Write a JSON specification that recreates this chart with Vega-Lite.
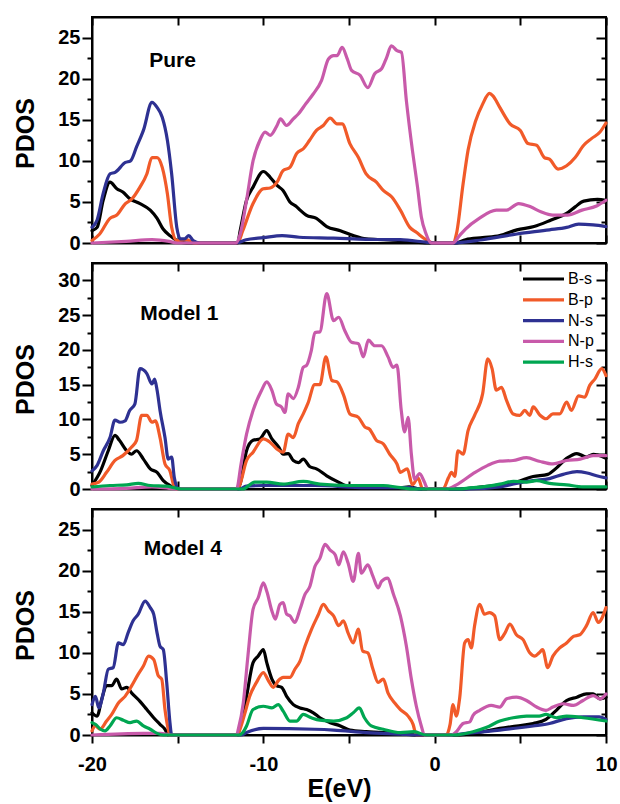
{
"$schema":"https://vega.github.io/schema/vega-lite/v6.json",
"padding":{"left":12,"top":15,"right":0,"bottom":0},
"config":{
 "view":{"stroke":"#000","strokeWidth":2},
 "font":"Liberation Sans",
 "axis":{"domainColor":"#000","domainWidth":2,"tickColor":"#000","tickWidth":2,"labelFont":"Liberation Sans","labelFontWeight":"bold","labelFontSize":20,"labelColor":"#000","titleFont":"Liberation Sans","titleFontWeight":"bold","titleFontSize":25,"titleColor":"#000","grid":false},
 "line":{"strokeWidth":3.2,"strokeJoin":"round","strokeCap":"round","interpolate":"monotone"}
},
"spacing":20,
"bounds":"flush",
"resolve":{"scale":{"color":"independent"},"legend":{"color":"independent"}},
"vconcat":[
{
 "width":514,"height":226,
 "data":{"values":[
{"s":"B-s","e":-20,"v":1.5},{"s":"B-s","e":-19.7,"v":1.9},{"s":"B-s","e":-19.35,"v":5.2},{"s":"B-s","e":-18.95,"v":7.4},{"s":"B-s","e":-18.55,"v":6.6},{"s":"B-s","e":-18.2,"v":6.2},{"s":"B-s","e":-17.8,"v":5.4},{"s":"B-s","e":-17.2,"v":4.8},{"s":"B-s","e":-16.6,"v":4},{"s":"B-s","e":-16.2,"v":3},{"s":"B-s","e":-15.85,"v":1.7},{"s":"B-s","e":-15.45,"v":0.9},{"s":"B-s","e":-15.05,"v":0.3},{"s":"B-s","e":-14.5,"v":0},{"s":"B-s","e":-11.5,"v":0},{"s":"B-s","e":-11.35,"v":1.5},{"s":"B-s","e":-10.98,"v":5.2},{"s":"B-s","e":-10.6,"v":6.8},{"s":"B-s","e":-10,"v":8.7},{"s":"B-s","e":-9.6,"v":8},{"s":"B-s","e":-9.2,"v":7},{"s":"B-s","e":-8.85,"v":6.4},{"s":"B-s","e":-8.45,"v":5},{"s":"B-s","e":-8.05,"v":4.4},{"s":"B-s","e":-7.85,"v":4},{"s":"B-s","e":-7.5,"v":3.4},{"s":"B-s","e":-6.9,"v":3},{"s":"B-s","e":-6.3,"v":2},{"s":"B-s","e":-5.5,"v":1.5},{"s":"B-s","e":-4.75,"v":0.9},{"s":"B-s","e":-4,"v":0.5},{"s":"B-s","e":-3,"v":0.4},{"s":"B-s","e":-2,"v":0.3},{"s":"B-s","e":-1.07,"v":0.1},{"s":"B-s","e":-0.3,"v":0},{"s":"B-s","e":1.2,"v":0},{"s":"B-s","e":1.8,"v":0.4},{"s":"B-s","e":2.8,"v":0.65},{"s":"B-s","e":3.8,"v":0.9},{"s":"B-s","e":4.8,"v":1.6},{"s":"B-s","e":5.8,"v":2},{"s":"B-s","e":6.8,"v":2.8},{"s":"B-s","e":7.7,"v":3.6},{"s":"B-s","e":8.2,"v":4.4},{"s":"B-s","e":8.7,"v":5.1},{"s":"B-s","e":9.5,"v":5.3},{"s":"B-s","e":10,"v":5.2},
{"s":"B-p","e":-20,"v":0.3},{"s":"B-p","e":-19.55,"v":1.1},{"s":"B-p","e":-18.95,"v":3},{"s":"B-p","e":-18.55,"v":3.4},{"s":"B-p","e":-18.05,"v":4.8},{"s":"B-p","e":-17.7,"v":5.3},{"s":"B-p","e":-17.2,"v":6.8},{"s":"B-p","e":-16.8,"v":8.4},{"s":"B-p","e":-16.5,"v":10.4},{"s":"B-p","e":-16.2,"v":10.4},{"s":"B-p","e":-15.9,"v":9.2},{"s":"B-p","e":-15.6,"v":6},{"s":"B-p","e":-15.35,"v":1.9},{"s":"B-p","e":-15.05,"v":0.3},{"s":"B-p","e":-14.5,"v":0.4},{"s":"B-p","e":-14,"v":0},{"s":"B-p","e":-11.5,"v":0},{"s":"B-p","e":-11.2,"v":1.5},{"s":"B-p","e":-10.6,"v":4.8},{"s":"B-p","e":-10,"v":6.6},{"s":"B-p","e":-9.6,"v":6.7},{"s":"B-p","e":-9.2,"v":7.4},{"s":"B-p","e":-8.85,"v":8.8},{"s":"B-p","e":-8.45,"v":9.2},{"s":"B-p","e":-8.05,"v":10.9},{"s":"B-p","e":-7.65,"v":11.5},{"s":"B-p","e":-7.3,"v":12.5},{"s":"B-p","e":-6.9,"v":13.7},{"s":"B-p","e":-6.5,"v":14.3},{"s":"B-p","e":-6.1,"v":15.2},{"s":"B-p","e":-5.7,"v":14.5},{"s":"B-p","e":-5.4,"v":14.5},{"s":"B-p","e":-4.95,"v":12.1},{"s":"B-p","e":-4.45,"v":10.4},{"s":"B-p","e":-4,"v":8.4},{"s":"B-p","e":-3.4,"v":7.4},{"s":"B-p","e":-3,"v":6.4},{"s":"B-p","e":-2.5,"v":5.6},{"s":"B-p","e":-2,"v":4},{"s":"B-p","e":-1.45,"v":1.9},{"s":"B-p","e":-1.07,"v":1.3},{"s":"B-p","e":-0.5,"v":0.4},{"s":"B-p","e":-0.1,"v":0},{"s":"B-p","e":1.07,"v":0},{"s":"B-p","e":1.27,"v":1.1},{"s":"B-p","e":1.66,"v":7.2},{"s":"B-p","e":1.95,"v":11.3},{"s":"B-p","e":2.4,"v":14.9},{"s":"B-p","e":2.8,"v":16.9},{"s":"B-p","e":3.2,"v":18.2},{"s":"B-p","e":3.4,"v":17.9},{"s":"B-p","e":3.8,"v":16.5},{"s":"B-p","e":4.4,"v":14.5},{"s":"B-p","e":5,"v":13.7},{"s":"B-p","e":5.45,"v":12.1},{"s":"B-p","e":5.95,"v":11.9},{"s":"B-p","e":6.4,"v":10.4},{"s":"B-p","e":6.7,"v":10.2},{"s":"B-p","e":7.2,"v":9},{"s":"B-p","e":7.7,"v":9.4},{"s":"B-p","e":8.2,"v":10.4},{"s":"B-p","e":8.7,"v":11.9},{"s":"B-p","e":9.15,"v":12.7},{"s":"B-p","e":9.65,"v":13.5},{"s":"B-p","e":10,"v":14.6},
{"s":"N-s","e":-20,"v":1.9},{"s":"N-s","e":-19.7,"v":2.8},{"s":"N-s","e":-19.35,"v":6},{"s":"N-s","e":-18.95,"v":8.4},{"s":"N-s","e":-18.65,"v":8.6},{"s":"N-s","e":-18.05,"v":9.8},{"s":"N-s","e":-17.75,"v":10},{"s":"N-s","e":-17.4,"v":11.7},{"s":"N-s","e":-17,"v":13.7},{"s":"N-s","e":-16.5,"v":17.1},{"s":"N-s","e":-16.2,"v":16.5},{"s":"N-s","e":-15.9,"v":15.3},{"s":"N-s","e":-15.6,"v":12.5},{"s":"N-s","e":-15.35,"v":8.4},{"s":"N-s","e":-15.05,"v":1.9},{"s":"N-s","e":-14.85,"v":0.5},{"s":"N-s","e":-14.6,"v":0.5},{"s":"N-s","e":-14.35,"v":0.9},{"s":"N-s","e":-14.1,"v":0.3},{"s":"N-s","e":-13.7,"v":0},{"s":"N-s","e":-11.6,"v":0},{"s":"N-s","e":-11,"v":0.4},{"s":"N-s","e":-10,"v":0.65},{"s":"N-s","e":-8.9,"v":0.9},{"s":"N-s","e":-7.9,"v":0.7},{"s":"N-s","e":-5.9,"v":0.6},{"s":"N-s","e":-4,"v":0.45},{"s":"N-s","e":-2,"v":0.4},{"s":"N-s","e":-0.5,"v":0.1},{"s":"N-s","e":0,"v":0},{"s":"N-s","e":1,"v":0},{"s":"N-s","e":2.8,"v":0.4},{"s":"N-s","e":4.8,"v":1.1},{"s":"N-s","e":6.7,"v":1.6},{"s":"N-s","e":7.7,"v":1.9},{"s":"N-s","e":8.4,"v":2.3},{"s":"N-s","e":9.25,"v":2.2},{"s":"N-s","e":10,"v":2},
{"s":"N-p","e":-20,"v":0},{"s":"N-p","e":-18,"v":0.2},{"s":"N-p","e":-16.5,"v":0.4},{"s":"N-p","e":-15.5,"v":0.2},{"s":"N-p","e":-15,"v":0},{"s":"N-p","e":-11.6,"v":0},{"s":"N-p","e":-11.35,"v":1.1},{"s":"N-p","e":-10.98,"v":5.2},{"s":"N-p","e":-10.6,"v":10},{"s":"N-p","e":-10.2,"v":12.5},{"s":"N-p","e":-9.9,"v":13.5},{"s":"N-p","e":-9.6,"v":13.1},{"s":"N-p","e":-9.2,"v":14.3},{"s":"N-p","e":-9,"v":15.1},{"s":"N-p","e":-8.65,"v":14.3},{"s":"N-p","e":-8.25,"v":15.1},{"s":"N-p","e":-7.96,"v":15.7},{"s":"N-p","e":-7.5,"v":17},{"s":"N-p","e":-7.1,"v":18.1},{"s":"N-p","e":-6.6,"v":19.8},{"s":"N-p","e":-6.2,"v":22.4},{"s":"N-p","e":-5.9,"v":22.8},{"s":"N-p","e":-5.7,"v":22.8},{"s":"N-p","e":-5.4,"v":23.8},{"s":"N-p","e":-5.1,"v":22.4},{"s":"N-p","e":-4.85,"v":21},{"s":"N-p","e":-4.35,"v":20.4},{"s":"N-p","e":-3.9,"v":18.9},{"s":"N-p","e":-3.5,"v":20.6},{"s":"N-p","e":-3.1,"v":21.2},{"s":"N-p","e":-2.8,"v":22.6},{"s":"N-p","e":-2.53,"v":24},{"s":"N-p","e":-2.2,"v":23.4},{"s":"N-p","e":-1.94,"v":23.2},{"s":"N-p","e":-1.65,"v":17.3},{"s":"N-p","e":-1.3,"v":11.3},{"s":"N-p","e":-1,"v":6.8},{"s":"N-p","e":-0.78,"v":3.2},{"s":"N-p","e":-0.5,"v":1.1},{"s":"N-p","e":-0.2,"v":0},{"s":"N-p","e":1.07,"v":0},{"s":"N-p","e":1.45,"v":0.9},{"s":"N-p","e":1.8,"v":1.7},{"s":"N-p","e":2.6,"v":3},{"s":"N-p","e":3.6,"v":4},{"s":"N-p","e":4.2,"v":4},{"s":"N-p","e":4.9,"v":4.8},{"s":"N-p","e":5.6,"v":4.4},{"s":"N-p","e":6.2,"v":3.8},{"s":"N-p","e":6.9,"v":3.4},{"s":"N-p","e":7.75,"v":3.4},{"s":"N-p","e":8.6,"v":4},{"s":"N-p","e":9.45,"v":4.5},{"s":"N-p","e":10,"v":5.2}
 ]},
 "resolve":{"axis":{"x":"independent","y":"independent"}},
 "layer":[
  {"mark":{"type":"line"},
   "encoding":{
    "x":{"field":"e","type":"quantitative","scale":{"domain":[-20,10],"nice":false,"zero":false},"axis":{"orient":"bottom","values":[-20,-15,-10,-5,0,5,10],"tickSize":-8,"labels":false,"title":null}},
    "y":{"field":"v","type":"quantitative","scale":{"domain":[0,27.5],"nice":false,"zero":false},"axis":{"orient":"left","values":[0,5,10,15,20,25],"tickSize":10,"labelPadding":2,"title":"PDOS","titleAngle":270,"titleBaseline":"alphabetic","titleAlign":"center","titleX":-59,"titleY":116}},
    "color":{"field":"s","type":"nominal","scale":{"domain":["B-s","B-p","N-s","N-p"],"range":["#000000","#f15a29","#2e3192","#c85aaa"]},"legend":null}
   }},
  {"data":{"values":[{"e":0,"v":0}]},"mark":{"type":"point","opacity":0},
   "encoding":{"x":{"field":"e","type":"quantitative","scale":{"domain":[-20,10],"nice":false,"zero":false},"axis":null},
    "y":{"field":"v","type":"quantitative","scale":{"domain":[0,27.5],"nice":false,"zero":false},"axis":{"orient":"left","values":[2.5,7.5,12.5,17.5,22.5],"tickSize":5,"labels":false,"domain":false,"title":null}}}},
  {"data":{"values":[{"e":0,"v":0}]},"mark":{"type":"point","opacity":0},
   "encoding":{"x":{"field":"e","type":"quantitative","scale":{"domain":[-20,10],"nice":false,"zero":false},"axis":null},
    "y":{"field":"v","type":"quantitative","scale":{"domain":[0,27.5],"nice":false,"zero":false},"axis":{"orient":"right","values":[0,5,10,15,20,25],"tickSize":-10,"labels":false,"title":null}}}},
  {"data":{"values":[{"e":0,"v":0}]},"mark":{"type":"point","opacity":0},
   "encoding":{"x":{"field":"e","type":"quantitative","scale":{"domain":[-20,10],"nice":false,"zero":false},"axis":null},
    "y":{"field":"v","type":"quantitative","scale":{"domain":[0,27.5],"nice":false,"zero":false},"axis":{"orient":"right","values":[2.5,7.5,12.5,17.5,22.5],"tickSize":-5,"labels":false,"domain":false,"title":null}}}},
  {"data":{"values":[{"e":0,"v":0}]},"mark":{"type":"point","opacity":0},
   "encoding":{"x":{"field":"e","type":"quantitative","scale":{"domain":[-20,10],"nice":false,"zero":false},"axis":{"orient":"top","values":[-20,-15,-10,-5,0,5,10],"tickSize":-8,"labels":false,"title":null}},
    "y":{"field":"v","type":"quantitative","scale":{"domain":[0,27.5],"nice":false,"zero":false},"axis":null}}},
  {"data":{"values":[{"e":-15.3,"v":22.1,"t":"Pure"}]},"mark":{"type":"text","font":"Liberation Sans","fontWeight":"bold","fontSize":21,"align":"center","baseline":"middle","color":"#000"},
   "encoding":{"x":{"field":"e","type":"quantitative","scale":{"domain":[-20,10],"nice":false,"zero":false},"axis":null},
    "y":{"field":"v","type":"quantitative","scale":{"domain":[0,27.5],"nice":false,"zero":false},"axis":null},
    "text":{"field":"t"}}}
 ]
},
{
 "width":514,"height":226,
 "data":{"values":[
{"s":"B-s","e":-20,"v":0.5},{"s":"B-s","e":-19.5,"v":2.6},{"s":"B-s","e":-19.05,"v":5.5},{"s":"B-s","e":-18.66,"v":7.7},{"s":"B-s","e":-18.4,"v":7},{"s":"B-s","e":-17.9,"v":5.3},{"s":"B-s","e":-17.7,"v":5},{"s":"B-s","e":-17.4,"v":5.5},{"s":"B-s","e":-17,"v":4.3},{"s":"B-s","e":-16.6,"v":2.9},{"s":"B-s","e":-16.2,"v":2.4},{"s":"B-s","e":-15.84,"v":1.2},{"s":"B-s","e":-15.45,"v":0.5},{"s":"B-s","e":-15.05,"v":0.1},{"s":"B-s","e":-14.8,"v":0},{"s":"B-s","e":-11.5,"v":0},{"s":"B-s","e":-11.36,"v":0.7},{"s":"B-s","e":-10.98,"v":5.5},{"s":"B-s","e":-10.6,"v":7},{"s":"B-s","e":-10.2,"v":7.2},{"s":"B-s","e":-9.8,"v":8.4},{"s":"B-s","e":-9.5,"v":7.2},{"s":"B-s","e":-9.1,"v":6},{"s":"B-s","e":-8.84,"v":5},{"s":"B-s","e":-8.55,"v":5.1},{"s":"B-s","e":-8.25,"v":4.1},{"s":"B-s","e":-7.95,"v":3.8},{"s":"B-s","e":-7.67,"v":4.3},{"s":"B-s","e":-7.28,"v":3.2},{"s":"B-s","e":-6.9,"v":2.9},{"s":"B-s","e":-6.3,"v":1.9},{"s":"B-s","e":-5.7,"v":1.1},{"s":"B-s","e":-4.95,"v":0.3},{"s":"B-s","e":-4,"v":0.2},{"s":"B-s","e":-2,"v":0.2},{"s":"B-s","e":-1.5,"v":0.3},{"s":"B-s","e":-0.8,"v":0},{"s":"B-s","e":1.46,"v":0},{"s":"B-s","e":2.8,"v":0.3},{"s":"B-s","e":3.8,"v":0.6},{"s":"B-s","e":4.77,"v":1},{"s":"B-s","e":5.75,"v":1.8},{"s":"B-s","e":6.6,"v":2.1},{"s":"B-s","e":7.1,"v":3},{"s":"B-s","e":7.7,"v":4.4},{"s":"B-s","e":8.3,"v":5.1},{"s":"B-s","e":8.86,"v":4.6},{"s":"B-s","e":9.25,"v":5},{"s":"B-s","e":10,"v":4.4},
{"s":"B-p","e":-20,"v":0.7},{"s":"B-p","e":-19.6,"v":1},{"s":"B-p","e":-19.15,"v":2.4},{"s":"B-p","e":-18.66,"v":4.1},{"s":"B-p","e":-18.2,"v":4.8},{"s":"B-p","e":-17.7,"v":6},{"s":"B-p","e":-17.4,"v":7},{"s":"B-p","e":-17.1,"v":10.6},{"s":"B-p","e":-16.8,"v":10.6},{"s":"B-p","e":-16.5,"v":9.6},{"s":"B-p","e":-16.3,"v":9.8},{"s":"B-p","e":-16.03,"v":7.4},{"s":"B-p","e":-15.74,"v":3.6},{"s":"B-p","e":-15.45,"v":2.6},{"s":"B-p","e":-15.25,"v":0.7},{"s":"B-p","e":-15.05,"v":0},{"s":"B-p","e":-11.5,"v":0},{"s":"B-p","e":-11.36,"v":0.7},{"s":"B-p","e":-10.98,"v":4.1},{"s":"B-p","e":-10.6,"v":5.3},{"s":"B-p","e":-10,"v":7.2},{"s":"B-p","e":-9.6,"v":6.7},{"s":"B-p","e":-9.23,"v":5.8},{"s":"B-p","e":-8.84,"v":5.3},{"s":"B-p","e":-8.55,"v":7.9},{"s":"B-p","e":-8.25,"v":7.4},{"s":"B-p","e":-7.96,"v":9.4},{"s":"B-p","e":-7.67,"v":10.8},{"s":"B-p","e":-7.4,"v":12.3},{"s":"B-p","e":-7,"v":15},{"s":"B-p","e":-6.7,"v":15},{"s":"B-p","e":-6.35,"v":19},{"s":"B-p","e":-6,"v":15.6},{"s":"B-p","e":-5.7,"v":15.4},{"s":"B-p","e":-5.3,"v":13.4},{"s":"B-p","e":-4.95,"v":10.8},{"s":"B-p","e":-4.45,"v":10.3},{"s":"B-p","e":-4.07,"v":8.9},{"s":"B-p","e":-3.8,"v":8.6},{"s":"B-p","e":-3.4,"v":7},{"s":"B-p","e":-3,"v":6.5},{"s":"B-p","e":-2.62,"v":5},{"s":"B-p","e":-2.2,"v":3.6},{"s":"B-p","e":-2,"v":2.4},{"s":"B-p","e":-1.6,"v":2.9},{"s":"B-p","e":-1.3,"v":0.6},{"s":"B-p","e":-0.97,"v":1.6},{"s":"B-p","e":-0.7,"v":0},{"s":"B-p","e":0.49,"v":0},{"s":"B-p","e":0.8,"v":1.6},{"s":"B-p","e":0.99,"v":2.4},{"s":"B-p","e":1.17,"v":1.8},{"s":"B-p","e":1.36,"v":5.5},{"s":"B-p","e":1.66,"v":5},{"s":"B-p","e":1.95,"v":8.4},{"s":"B-p","e":2.33,"v":10.6},{"s":"B-p","e":2.8,"v":13.7},{"s":"B-p","e":3.1,"v":18.7},{"s":"B-p","e":3.35,"v":17.3},{"s":"B-p","e":3.6,"v":14.2},{"s":"B-p","e":3.9,"v":14.6},{"s":"B-p","e":4.2,"v":12.7},{"s":"B-p","e":4.58,"v":10.8},{"s":"B-p","e":4.97,"v":10.6},{"s":"B-p","e":5.26,"v":11.3},{"s":"B-p","e":5.55,"v":10.6},{"s":"B-p","e":5.75,"v":11.8},{"s":"B-p","e":6.15,"v":10.6},{"s":"B-p","e":6.5,"v":10.1},{"s":"B-p","e":6.9,"v":10.8},{"s":"B-p","e":7.3,"v":10.8},{"s":"B-p","e":7.7,"v":12.5},{"s":"B-p","e":7.98,"v":11.3},{"s":"B-p","e":8.4,"v":13.4},{"s":"B-p","e":8.76,"v":13.2},{"s":"B-p","e":9.05,"v":14.9},{"s":"B-p","e":9.35,"v":15.8},{"s":"B-p","e":9.75,"v":17.3},{"s":"B-p","e":10,"v":16.3},
{"s":"N-s","e":-20,"v":2.6},{"s":"N-s","e":-19.7,"v":3.4},{"s":"N-s","e":-19.34,"v":5.5},{"s":"N-s","e":-18.95,"v":7.4},{"s":"N-s","e":-18.66,"v":9.9},{"s":"N-s","e":-18.37,"v":9.6},{"s":"N-s","e":-18.07,"v":9.8},{"s":"N-s","e":-17.8,"v":11.3},{"s":"N-s","e":-17.5,"v":12.2},{"s":"N-s","e":-17.2,"v":17.3},{"s":"N-s","e":-16.8,"v":16.6},{"s":"N-s","e":-16.5,"v":15.1},{"s":"N-s","e":-16.35,"v":15.8},{"s":"N-s","e":-16.2,"v":14.2},{"s":"N-s","e":-16.03,"v":11.3},{"s":"N-s","e":-15.74,"v":7.4},{"s":"N-s","e":-15.55,"v":4.3},{"s":"N-s","e":-15.35,"v":4.6},{"s":"N-s","e":-15.2,"v":1.7},{"s":"N-s","e":-14.95,"v":0},{"s":"N-s","e":-11.4,"v":0},{"s":"N-s","e":-11,"v":0.4},{"s":"N-s","e":-10,"v":0.5},{"s":"N-s","e":-7,"v":0.5},{"s":"N-s","e":-4,"v":0.2},{"s":"N-s","e":-1.5,"v":0.2},{"s":"N-s","e":-0.8,"v":0},{"s":"N-s","e":2,"v":0},{"s":"N-s","e":3.8,"v":0.3},{"s":"N-s","e":4.77,"v":0.8},{"s":"N-s","e":5.75,"v":1.2},{"s":"N-s","e":6.7,"v":1.5},{"s":"N-s","e":7.5,"v":2.1},{"s":"N-s","e":8.3,"v":2.5},{"s":"N-s","e":8.9,"v":2.3},{"s":"N-s","e":9.45,"v":1.9},{"s":"N-s","e":10,"v":1.6},
{"s":"N-p","e":-20,"v":0},{"s":"N-p","e":-18,"v":0.1},{"s":"N-p","e":-16.5,"v":0.3},{"s":"N-p","e":-15.5,"v":0.1},{"s":"N-p","e":-15,"v":0},{"s":"N-p","e":-11.56,"v":0},{"s":"N-p","e":-11.3,"v":3.6},{"s":"N-p","e":-10.98,"v":7.9},{"s":"N-p","e":-10.6,"v":11.3},{"s":"N-p","e":-10.1,"v":14.2},{"s":"N-p","e":-9.8,"v":15.4},{"s":"N-p","e":-9.5,"v":14.2},{"s":"N-p","e":-9.23,"v":12.2},{"s":"N-p","e":-8.94,"v":11.8},{"s":"N-p","e":-8.74,"v":11},{"s":"N-p","e":-8.55,"v":13.7},{"s":"N-p","e":-8.25,"v":13},{"s":"N-p","e":-7.96,"v":14.6},{"s":"N-p","e":-7.67,"v":17.5},{"s":"N-p","e":-7.47,"v":17.8},{"s":"N-p","e":-7.2,"v":19.9},{"s":"N-p","e":-6.99,"v":22.5},{"s":"N-p","e":-6.7,"v":22.6},{"s":"N-p","e":-6.3,"v":28.1},{"s":"N-p","e":-5.9,"v":24.2},{"s":"N-p","e":-5.6,"v":24.7},{"s":"N-p","e":-5.25,"v":22.8},{"s":"N-p","e":-4.85,"v":21.1},{"s":"N-p","e":-4.45,"v":20.9},{"s":"N-p","e":-4.16,"v":19},{"s":"N-p","e":-3.87,"v":21.4},{"s":"N-p","e":-3.5,"v":20.6},{"s":"N-p","e":-3.1,"v":20.6},{"s":"N-p","e":-2.72,"v":19},{"s":"N-p","e":-2.43,"v":17.5},{"s":"N-p","e":-2.2,"v":17.8},{"s":"N-p","e":-1.95,"v":11.3},{"s":"N-p","e":-1.75,"v":8.2},{"s":"N-p","e":-1.55,"v":10.3},{"s":"N-p","e":-1.36,"v":5},{"s":"N-p","e":-1.17,"v":1.4},{"s":"N-p","e":-0.88,"v":2.2},{"s":"N-p","e":-0.6,"v":1},{"s":"N-p","e":-0.4,"v":0},{"s":"N-p","e":0.68,"v":0},{"s":"N-p","e":1.27,"v":0.6},{"s":"N-p","e":2.24,"v":2.2},{"s":"N-p","e":3.1,"v":3.4},{"s":"N-p","e":3.8,"v":4},{"s":"N-p","e":4.58,"v":4.1},{"s":"N-p","e":5.36,"v":4.5},{"s":"N-p","e":6.1,"v":4},{"s":"N-p","e":6.9,"v":3.6},{"s":"N-p","e":7.7,"v":4.1},{"s":"N-p","e":8.5,"v":4.3},{"s":"N-p","e":9.25,"v":4.8},{"s":"N-p","e":10,"v":4.8},
{"s":"H-s","e":-20,"v":0.3},{"s":"H-s","e":-18.95,"v":0.5},{"s":"H-s","e":-17.97,"v":0.6},{"s":"H-s","e":-17.3,"v":0.8},{"s":"H-s","e":-16.6,"v":0.5},{"s":"H-s","e":-15.64,"v":0.4},{"s":"H-s","e":-15.06,"v":0.1},{"s":"H-s","e":-14.8,"v":0},{"s":"H-s","e":-11.2,"v":0},{"s":"H-s","e":-10.5,"v":1},{"s":"H-s","e":-9.8,"v":1},{"s":"H-s","e":-8.84,"v":0.7},{"s":"H-s","e":-7.67,"v":1.1},{"s":"H-s","e":-6.7,"v":0.7},{"s":"H-s","e":-5,"v":0.5},{"s":"H-s","e":-3,"v":0.5},{"s":"H-s","e":-2,"v":0.2},{"s":"H-s","e":-1.2,"v":0},{"s":"H-s","e":1.5,"v":0},{"s":"H-s","e":1.85,"v":0.1},{"s":"H-s","e":2.8,"v":0.3},{"s":"H-s","e":3.8,"v":0.7},{"s":"H-s","e":4.6,"v":1.1},{"s":"H-s","e":5.36,"v":1},{"s":"H-s","e":5.95,"v":1.2},{"s":"H-s","e":6.7,"v":0.8},{"s":"H-s","e":7.7,"v":0.6},{"s":"H-s","e":8.66,"v":0.3},{"s":"H-s","e":10,"v":0.3}
 ]},
 "resolve":{"axis":{"x":"independent","y":"independent"}},
 "layer":[
  {"mark":{"type":"line"},
   "encoding":{
    "x":{"field":"e","type":"quantitative","scale":{"domain":[-20,10],"nice":false,"zero":false},"axis":{"orient":"bottom","values":[-20,-15,-10,-5,0,5,10],"tickSize":-8,"labels":false,"title":null}},
    "y":{"field":"v","type":"quantitative","scale":{"domain":[0,32.5],"nice":false,"zero":false},"axis":{"orient":"left","values":[0,5,10,15,20,25,30],"tickSize":10,"labelPadding":2,"title":"PDOS","titleAngle":270,"titleBaseline":"alphabetic","titleAlign":"center","titleX":-59,"titleY":116}},
    "color":{"field":"s","type":"nominal","scale":{"domain":["B-s","B-p","N-s","N-p","H-s"],"range":["#000000","#f15a29","#2e3192","#c85aaa","#00a651"]},
     "legend":{"orient":"none","legendX":429,"legendY":6,"title":null,"symbolType":"stroke","symbolSize":1681,"symbolStrokeWidth":3.6,"clipHeight":20,"rowPadding":0.8,"labelFont":"Liberation Sans","labelFontSize":16,"labelColor":"#000","labelOffset":2,"padding":0}}
   }},
  {"data":{"values":[{"e":0,"v":0}]},"mark":{"type":"point","opacity":0},
   "encoding":{"x":{"field":"e","type":"quantitative","scale":{"domain":[-20,10],"nice":false,"zero":false},"axis":null},
    "y":{"field":"v","type":"quantitative","scale":{"domain":[0,32.5],"nice":false,"zero":false},"axis":{"orient":"left","values":[2.5,7.5,12.5,17.5,22.5,27.5],"tickSize":5,"labels":false,"domain":false,"title":null}}}},
  {"data":{"values":[{"e":0,"v":0}]},"mark":{"type":"point","opacity":0},
   "encoding":{"x":{"field":"e","type":"quantitative","scale":{"domain":[-20,10],"nice":false,"zero":false},"axis":null},
    "y":{"field":"v","type":"quantitative","scale":{"domain":[0,32.5],"nice":false,"zero":false},"axis":{"orient":"right","values":[0,5,10,15,20,25,30],"tickSize":-10,"labels":false,"title":null}}}},
  {"data":{"values":[{"e":0,"v":0}]},"mark":{"type":"point","opacity":0},
   "encoding":{"x":{"field":"e","type":"quantitative","scale":{"domain":[-20,10],"nice":false,"zero":false},"axis":null},
    "y":{"field":"v","type":"quantitative","scale":{"domain":[0,32.5],"nice":false,"zero":false},"axis":{"orient":"right","values":[2.5,7.5,12.5,17.5,22.5,27.5],"tickSize":-5,"labels":false,"domain":false,"title":null}}}},
  {"data":{"values":[{"e":0,"v":0}]},"mark":{"type":"point","opacity":0},
   "encoding":{"x":{"field":"e","type":"quantitative","scale":{"domain":[-20,10],"nice":false,"zero":false},"axis":{"orient":"top","values":[-20,-15,-10,-5,0,5,10],"tickSize":-8,"labels":false,"title":null}},
    "y":{"field":"v","type":"quantitative","scale":{"domain":[0,32.5],"nice":false,"zero":false},"axis":null}}},
  {"data":{"values":[{"e":-14.9,"v":25.2,"t":"Model 1"}]},"mark":{"type":"text","font":"Liberation Sans","fontWeight":"bold","fontSize":21,"align":"center","baseline":"middle","color":"#000"},
   "encoding":{"x":{"field":"e","type":"quantitative","scale":{"domain":[-20,10],"nice":false,"zero":false},"axis":null},
    "y":{"field":"v","type":"quantitative","scale":{"domain":[0,32.5],"nice":false,"zero":false},"axis":null},
    "text":{"field":"t"}}}
 ]
},
{
 "width":514,"height":226,
 "data":{"values":[
{"s":"B-s","e":-20,"v":2.7},{"s":"B-s","e":-19.7,"v":2.3},{"s":"B-s","e":-19.44,"v":4.3},{"s":"B-s","e":-19.15,"v":6},{"s":"B-s","e":-18.85,"v":6},{"s":"B-s","e":-18.56,"v":6.8},{"s":"B-s","e":-18.27,"v":5.6},{"s":"B-s","e":-17.97,"v":5.8},{"s":"B-s","e":-17.68,"v":5.1},{"s":"B-s","e":-17.2,"v":4.1},{"s":"B-s","e":-16.8,"v":3.1},{"s":"B-s","e":-16.4,"v":2.1},{"s":"B-s","e":-16.03,"v":1.3},{"s":"B-s","e":-15.74,"v":0.7},{"s":"B-s","e":-15.55,"v":0},{"s":"B-s","e":-11.5,"v":0},{"s":"B-s","e":-11.36,"v":1.1},{"s":"B-s","e":-10.98,"v":4.7},{"s":"B-s","e":-10.6,"v":8.8},{"s":"B-s","e":-10.3,"v":9.6},{"s":"B-s","e":-10,"v":10.4},{"s":"B-s","e":-9.8,"v":8.8},{"s":"B-s","e":-9.5,"v":6.8},{"s":"B-s","e":-9.23,"v":6},{"s":"B-s","e":-8.93,"v":5.8},{"s":"B-s","e":-8.64,"v":4.7},{"s":"B-s","e":-8.25,"v":3.7},{"s":"B-s","e":-7.86,"v":3.3},{"s":"B-s","e":-7.47,"v":3.1},{"s":"B-s","e":-7.08,"v":2.7},{"s":"B-s","e":-6.7,"v":2.1},{"s":"B-s","e":-6.1,"v":1.5},{"s":"B-s","e":-5.5,"v":1.1},{"s":"B-s","e":-4.95,"v":0.6},{"s":"B-s","e":-4,"v":0.4},{"s":"B-s","e":-2,"v":0.2},{"s":"B-s","e":-0.9,"v":0},{"s":"B-s","e":1.46,"v":0},{"s":"B-s","e":2.8,"v":0.4},{"s":"B-s","e":3.8,"v":0.8},{"s":"B-s","e":4.77,"v":1.1},{"s":"B-s","e":5.75,"v":1.4},{"s":"B-s","e":6.5,"v":1.9},{"s":"B-s","e":7.1,"v":3},{"s":"B-s","e":7.7,"v":4.2},{"s":"B-s","e":8.3,"v":4.6},{"s":"B-s","e":8.86,"v":5},{"s":"B-s","e":9.25,"v":5},{"s":"B-s","e":9.65,"v":4.4},{"s":"B-s","e":10,"v":4.6},
{"s":"B-p","e":-20,"v":0.5},{"s":"B-p","e":-19.8,"v":1.1},{"s":"B-p","e":-19.53,"v":0.7},{"s":"B-p","e":-19.15,"v":1.7},{"s":"B-p","e":-18.85,"v":2.5},{"s":"B-p","e":-18.46,"v":3.9},{"s":"B-p","e":-18.07,"v":4.7},{"s":"B-p","e":-17.68,"v":6},{"s":"B-p","e":-17.3,"v":7.4},{"s":"B-p","e":-17,"v":8.4},{"s":"B-p","e":-16.7,"v":9.6},{"s":"B-p","e":-16.4,"v":9.2},{"s":"B-p","e":-16.13,"v":7.2},{"s":"B-p","e":-15.93,"v":6.8},{"s":"B-p","e":-15.74,"v":3.1},{"s":"B-p","e":-15.55,"v":0.7},{"s":"B-p","e":-15.45,"v":0},{"s":"B-p","e":-11.5,"v":0},{"s":"B-p","e":-11.36,"v":0.7},{"s":"B-p","e":-11.07,"v":2.7},{"s":"B-p","e":-10.8,"v":4.7},{"s":"B-p","e":-10.4,"v":6.4},{"s":"B-p","e":-10,"v":7.6},{"s":"B-p","e":-9.7,"v":6.6},{"s":"B-p","e":-9.42,"v":5.8},{"s":"B-p","e":-9.13,"v":6.6},{"s":"B-p","e":-8.84,"v":7},{"s":"B-p","e":-8.45,"v":7},{"s":"B-p","e":-8.16,"v":8},{"s":"B-p","e":-7.86,"v":9},{"s":"B-p","e":-7.57,"v":10.8},{"s":"B-p","e":-7.2,"v":12.8},{"s":"B-p","e":-6.8,"v":14.6},{"s":"B-p","e":-6.5,"v":15.9},{"s":"B-p","e":-6.2,"v":15.1},{"s":"B-p","e":-5.9,"v":14.5},{"s":"B-p","e":-5.6,"v":13.3},{"s":"B-p","e":-5.33,"v":13.9},{"s":"B-p","e":-5.05,"v":12.4},{"s":"B-p","e":-4.75,"v":11.2},{"s":"B-p","e":-4.46,"v":12.9},{"s":"B-p","e":-4.2,"v":10.2},{"s":"B-p","e":-3.9,"v":10},{"s":"B-p","e":-3.6,"v":8},{"s":"B-p","e":-3.3,"v":6.4},{"s":"B-p","e":-3,"v":6.8},{"s":"B-p","e":-2.72,"v":5.1},{"s":"B-p","e":-2.33,"v":3.9},{"s":"B-p","e":-2,"v":3.1},{"s":"B-p","e":-1.55,"v":2.3},{"s":"B-p","e":-1.26,"v":1.3},{"s":"B-p","e":-1.07,"v":0},{"s":"B-p","e":0.68,"v":0},{"s":"B-p","e":0.9,"v":1.3},{"s":"B-p","e":1.07,"v":3.7},{"s":"B-p","e":1.26,"v":2.3},{"s":"B-p","e":1.46,"v":4.5},{"s":"B-p","e":1.75,"v":11.2},{"s":"B-p","e":1.95,"v":11.6},{"s":"B-p","e":2.14,"v":10.6},{"s":"B-p","e":2.33,"v":13.3},{"s":"B-p","e":2.63,"v":15.9},{"s":"B-p","e":2.9,"v":14.7},{"s":"B-p","e":3.2,"v":14.9},{"s":"B-p","e":3.5,"v":14.5},{"s":"B-p","e":3.8,"v":11.6},{"s":"B-p","e":4.1,"v":12.4},{"s":"B-p","e":4.39,"v":13.5},{"s":"B-p","e":4.77,"v":12.2},{"s":"B-p","e":5.16,"v":11.6},{"s":"B-p","e":5.55,"v":10},{"s":"B-p","e":5.85,"v":9.6},{"s":"B-p","e":6.1,"v":10},{"s":"B-p","e":6.3,"v":10.4},{"s":"B-p","e":6.6,"v":8.2},{"s":"B-p","e":6.9,"v":9.6},{"s":"B-p","e":7.3,"v":10.6},{"s":"B-p","e":7.7,"v":11.2},{"s":"B-p","e":8.1,"v":12},{"s":"B-p","e":8.47,"v":12.2},{"s":"B-p","e":8.86,"v":13.3},{"s":"B-p","e":9.25,"v":14.9},{"s":"B-p","e":9.55,"v":13.7},{"s":"B-p","e":10,"v":15.5},
{"s":"N-s","e":-20,"v":3.7},{"s":"N-s","e":-19.8,"v":4.7},{"s":"N-s","e":-19.6,"v":3.3},{"s":"N-s","e":-19.34,"v":5.1},{"s":"N-s","e":-19.05,"v":8},{"s":"N-s","e":-18.76,"v":8.2},{"s":"N-s","e":-18.46,"v":11.2},{"s":"N-s","e":-18.17,"v":11},{"s":"N-s","e":-17.9,"v":12.4},{"s":"N-s","e":-17.6,"v":13.9},{"s":"N-s","e":-17.3,"v":14.7},{"s":"N-s","e":-16.9,"v":16.3},{"s":"N-s","e":-16.6,"v":15.5},{"s":"N-s","e":-16.4,"v":14.7},{"s":"N-s","e":-16.2,"v":12.4},{"s":"N-s","e":-16.03,"v":10.8},{"s":"N-s","e":-15.84,"v":10.4},{"s":"N-s","e":-15.64,"v":6.4},{"s":"N-s","e":-15.45,"v":1.5},{"s":"N-s","e":-15.35,"v":0},{"s":"N-s","e":-11.3,"v":0},{"s":"N-s","e":-10.98,"v":0.3},{"s":"N-s","e":-10,"v":0.8},{"s":"N-s","e":-7,"v":0.7},{"s":"N-s","e":-5.9,"v":0.6},{"s":"N-s","e":-4,"v":0.3},{"s":"N-s","e":-2,"v":0.1},{"s":"N-s","e":-1,"v":0},{"s":"N-s","e":0.8,"v":0},{"s":"N-s","e":1.85,"v":0.2},{"s":"N-s","e":3.8,"v":0.6},{"s":"N-s","e":5.75,"v":1.1},{"s":"N-s","e":6.7,"v":1.4},{"s":"N-s","e":7.7,"v":2},{"s":"N-s","e":8.66,"v":2.2},{"s":"N-s","e":9.6,"v":2.2},{"s":"N-s","e":10,"v":1.9},
{"s":"N-p","e":-20,"v":0},{"s":"N-p","e":-17,"v":0.2},{"s":"N-p","e":-16,"v":0.2},{"s":"N-p","e":-15.4,"v":0},{"s":"N-p","e":-11.56,"v":0},{"s":"N-p","e":-11.46,"v":0.7},{"s":"N-p","e":-11.17,"v":3.9},{"s":"N-p","e":-10.9,"v":9.6},{"s":"N-p","e":-10.6,"v":15.3},{"s":"N-p","e":-10.3,"v":16.7},{"s":"N-p","e":-10,"v":18.5},{"s":"N-p","e":-9.8,"v":17.5},{"s":"N-p","e":-9.5,"v":15.1},{"s":"N-p","e":-9.3,"v":14.1},{"s":"N-p","e":-9.03,"v":15.9},{"s":"N-p","e":-8.84,"v":16.1},{"s":"N-p","e":-8.64,"v":14.7},{"s":"N-p","e":-8.45,"v":14.5},{"s":"N-p","e":-8.16,"v":13.7},{"s":"N-p","e":-7.86,"v":15.3},{"s":"N-p","e":-7.57,"v":17.1},{"s":"N-p","e":-7.28,"v":18.1},{"s":"N-p","e":-6.99,"v":20.5},{"s":"N-p","e":-6.7,"v":21.5},{"s":"N-p","e":-6.4,"v":23.2},{"s":"N-p","e":-6.1,"v":22.5},{"s":"N-p","e":-5.8,"v":21.9},{"s":"N-p","e":-5.6,"v":20.7},{"s":"N-p","e":-5.33,"v":22.3},{"s":"N-p","e":-5.05,"v":20.9},{"s":"N-p","e":-4.75,"v":18.7},{"s":"N-p","e":-4.45,"v":22.1},{"s":"N-p","e":-4.28,"v":19.7},{"s":"N-p","e":-3.9,"v":20.7},{"s":"N-p","e":-3.6,"v":19.3},{"s":"N-p","e":-3.3,"v":17.9},{"s":"N-p","e":-3.1,"v":18.7},{"s":"N-p","e":-2.76,"v":19.1},{"s":"N-p","e":-2.4,"v":17.1},{"s":"N-p","e":-2,"v":14.5},{"s":"N-p","e":-1.65,"v":10.8},{"s":"N-p","e":-1.36,"v":6.8},{"s":"N-p","e":-1.07,"v":3.5},{"s":"N-p","e":-0.78,"v":1.1},{"s":"N-p","e":-0.6,"v":0},{"s":"N-p","e":0.99,"v":0},{"s":"N-p","e":1.27,"v":0.4},{"s":"N-p","e":1.66,"v":1.4},{"s":"N-p","e":2.05,"v":1.6},{"s":"N-p","e":2.24,"v":2.4},{"s":"N-p","e":2.63,"v":3},{"s":"N-p","e":3.3,"v":3.6},{"s":"N-p","e":3.8,"v":3.4},{"s":"N-p","e":4.2,"v":4.4},{"s":"N-p","e":4.77,"v":4.6},{"s":"N-p","e":5.36,"v":4.2},{"s":"N-p","e":5.95,"v":3.4},{"s":"N-p","e":6.5,"v":3},{"s":"N-p","e":6.9,"v":3.4},{"s":"N-p","e":7.5,"v":3.8},{"s":"N-p","e":8.1,"v":3.6},{"s":"N-p","e":8.66,"v":4.2},{"s":"N-p","e":9.25,"v":4.8},{"s":"N-p","e":9.65,"v":4.4},{"s":"N-p","e":10,"v":5},
{"s":"H-s","e":-20,"v":1.5},{"s":"H-s","e":-19.8,"v":1.3},{"s":"H-s","e":-19.5,"v":0.7},{"s":"H-s","e":-19.24,"v":0.5},{"s":"H-s","e":-18.95,"v":1.1},{"s":"H-s","e":-18.56,"v":2.1},{"s":"H-s","e":-18.17,"v":1.8},{"s":"H-s","e":-17.78,"v":1.5},{"s":"H-s","e":-17.4,"v":1.7},{"s":"H-s","e":-17,"v":1.1},{"s":"H-s","e":-16.6,"v":0.7},{"s":"H-s","e":-16.2,"v":0.2},{"s":"H-s","e":-15.84,"v":0},{"s":"H-s","e":-11.4,"v":0},{"s":"H-s","e":-11.2,"v":0.3},{"s":"H-s","e":-10.98,"v":1.1},{"s":"H-s","e":-10.6,"v":3.1},{"s":"H-s","e":-10,"v":3.5},{"s":"H-s","e":-9.5,"v":3.3},{"s":"H-s","e":-9.13,"v":3.7},{"s":"H-s","e":-8.84,"v":2.9},{"s":"H-s","e":-8.45,"v":1.7},{"s":"H-s","e":-8.06,"v":1.7},{"s":"H-s","e":-7.67,"v":2.5},{"s":"H-s","e":-7.2,"v":2.1},{"s":"H-s","e":-6.7,"v":1.8},{"s":"H-s","e":-5.9,"v":1.7},{"s":"H-s","e":-5.13,"v":2.1},{"s":"H-s","e":-4.75,"v":2.7},{"s":"H-s","e":-4.4,"v":3.3},{"s":"H-s","e":-4.1,"v":2.1},{"s":"H-s","e":-3.7,"v":1.1},{"s":"H-s","e":-3,"v":0.7},{"s":"H-s","e":-2,"v":0.3},{"s":"H-s","e":-1.2,"v":0.4},{"s":"H-s","e":-0.5,"v":0},{"s":"H-s","e":1.07,"v":0},{"s":"H-s","e":2.24,"v":0.4},{"s":"H-s","e":3,"v":0.9},{"s":"H-s","e":3.8,"v":1.7},{"s":"H-s","e":4.58,"v":2.1},{"s":"H-s","e":5.36,"v":2.3},{"s":"H-s","e":6.1,"v":2.3},{"s":"H-s","e":6.5,"v":2.5},{"s":"H-s","e":7.1,"v":2.1},{"s":"H-s","e":7.7,"v":2.3},{"s":"H-s","e":8.66,"v":2.1},{"s":"H-s","e":10,"v":1.7}
 ]},
 "resolve":{"axis":{"x":"independent","y":"independent"}},
 "layer":[
  {"mark":{"type":"line"},
   "encoding":{
    "x":{"field":"e","type":"quantitative","scale":{"domain":[-20,10],"nice":false,"zero":false},"axis":{"orient":"bottom","values":[-20,-15,-10,-5,0,5,10],"tickSize":8,"labelPadding":11,"labelFlush":false,"labelOverlap":false,"labelExpr":"datum.value % 10 === 0 ? '' + datum.value : ''","title":"E(eV)","titlePadding":2,"titleX":247}},
    "y":{"field":"v","type":"quantitative","scale":{"domain":[0,27.5],"nice":false,"zero":false},"axis":{"orient":"left","values":[0,5,10,15,20,25],"tickSize":10,"labelPadding":2,"title":"PDOS","titleAngle":270,"titleBaseline":"alphabetic","titleAlign":"center","titleX":-59,"titleY":116}},
    "color":{"field":"s","type":"nominal","scale":{"domain":["B-s","B-p","N-s","N-p","H-s"],"range":["#000000","#f15a29","#2e3192","#c85aaa","#00a651"]},"legend":null}
   }},
  {"data":{"values":[{"e":0,"v":0}]},"mark":{"type":"point","opacity":0},
   "encoding":{"x":{"field":"e","type":"quantitative","scale":{"domain":[-20,10],"nice":false,"zero":false},"axis":null},
    "y":{"field":"v","type":"quantitative","scale":{"domain":[0,27.5],"nice":false,"zero":false},"axis":{"orient":"left","values":[2.5,7.5,12.5,17.5,22.5],"tickSize":5,"labels":false,"domain":false,"title":null}}}},
  {"data":{"values":[{"e":0,"v":0}]},"mark":{"type":"point","opacity":0},
   "encoding":{"x":{"field":"e","type":"quantitative","scale":{"domain":[-20,10],"nice":false,"zero":false},"axis":null},
    "y":{"field":"v","type":"quantitative","scale":{"domain":[0,27.5],"nice":false,"zero":false},"axis":{"orient":"right","values":[0,5,10,15,20,25],"tickSize":-10,"labels":false,"title":null}}}},
  {"data":{"values":[{"e":0,"v":0}]},"mark":{"type":"point","opacity":0},
   "encoding":{"x":{"field":"e","type":"quantitative","scale":{"domain":[-20,10],"nice":false,"zero":false},"axis":null},
    "y":{"field":"v","type":"quantitative","scale":{"domain":[0,27.5],"nice":false,"zero":false},"axis":{"orient":"right","values":[2.5,7.5,12.5,17.5,22.5],"tickSize":-5,"labels":false,"domain":false,"title":null}}}},
  {"data":{"values":[{"e":0,"v":0}]},"mark":{"type":"point","opacity":0},
   "encoding":{"x":{"field":"e","type":"quantitative","scale":{"domain":[-20,10],"nice":false,"zero":false},"axis":{"orient":"top","values":[-20,-15,-10,-5,0,5,10],"tickSize":-8,"labels":false,"title":null}},
    "y":{"field":"v","type":"quantitative","scale":{"domain":[0,27.5],"nice":false,"zero":false},"axis":null}}},
  {"data":{"values":[{"e":-14.7,"v":22.6,"t":"Model 4"}]},"mark":{"type":"text","font":"Liberation Sans","fontWeight":"bold","fontSize":21,"align":"center","baseline":"middle","color":"#000"},
   "encoding":{"x":{"field":"e","type":"quantitative","scale":{"domain":[-20,10],"nice":false,"zero":false},"axis":null},
    "y":{"field":"v","type":"quantitative","scale":{"domain":[0,27.5],"nice":false,"zero":false},"axis":null},
    "text":{"field":"t"}}}
 ]
}
]
}
